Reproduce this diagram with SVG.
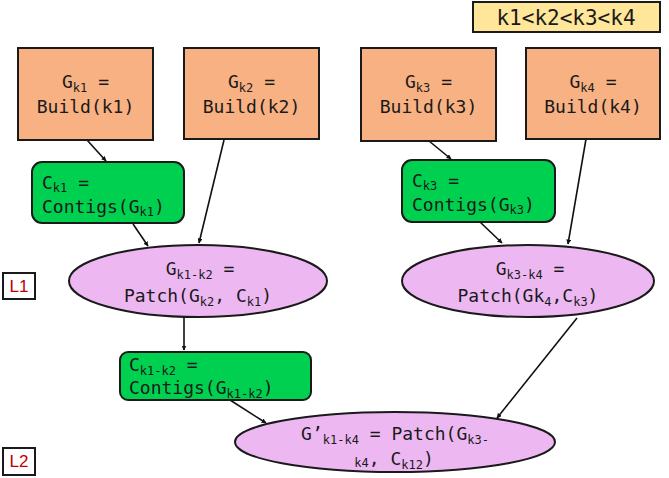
<svg xmlns="http://www.w3.org/2000/svg" width="669" height="478" viewBox="0 0 669 478">
<style>
  .build { fill: #F7B183; stroke: #1a1a1a; stroke-width: 2; }
  .contig { fill: #00D050; stroke: #1a1a1a; stroke-width: 2; }
  .patch { fill: #EDB8F2; stroke: #1a1a1a; stroke-width: 2; }
  .legend { fill: #FFE699; stroke: #1a1a1a; stroke-width: 2; }
  .lvl { fill: #ffffff; stroke: #1a1a1a; stroke-width: 2; }
  .t { font-family: "DejaVu Sans Mono", "Liberation Mono", monospace; font-size: 18px; fill: #1a1a1a; }
  .sub { font-size: 12px; }
  .lt { font-family: "Liberation Sans", "Open Sans", sans-serif; font-size: 17px; fill: #C00000; }
  .edge { stroke: #111; stroke-width: 1.6; fill: none; marker-end: url(#ah); }
</style>
<defs>
  <marker id="ah" viewBox="0 0 10 10" refX="9" refY="5" markerWidth="5" markerHeight="5" orient="auto" markerUnits="userSpaceOnUse">
    <path d="M0,0 L10,5 L0,10 z" fill="#111"/>
  </marker>
</defs>

<g id="connectors">
  <line class="edge" x1="87" y1="140" x2="106" y2="161"/>
  <line class="edge" x1="224" y1="140" x2="199" y2="243"/>
  <line class="edge" x1="133" y1="224" x2="148" y2="246"/>
  <line class="edge" x1="429" y1="141" x2="451" y2="159"/>
  <line class="edge" x1="586" y1="139" x2="568" y2="244"/>
  <line class="edge" x1="480" y1="222" x2="502" y2="243"/>
  <line class="edge" x1="184" y1="317" x2="184" y2="350"/>
  <line class="edge" x1="230" y1="400" x2="266" y2="423"/>
  <line class="edge" x1="577" y1="318" x2="497" y2="418"/>
</g>

<g id="legend">
  <rect class="legend" x="473" y="2" width="187" height="30"/>
  <text class="t" x="566" y="25" text-anchor="middle" style="font-size:21px">k1&lt;k2&lt;k3&lt;k4</text>
</g>

<g id="Gk1">
  <rect class="build" x="18" y="48" width="135" height="92"/>
  <text class="t" x="85.5" y="88" text-anchor="middle">G<tspan class="sub" dy="4">k1</tspan><tspan dy="-4"> =</tspan></text>
  <text class="t" x="85.5" y="113" text-anchor="middle">Build(k1)</text>
</g>
<g id="Gk2">
  <rect class="build" x="184" y="48" width="135" height="91"/>
  <text class="t" x="251.5" y="88" text-anchor="middle">G<tspan class="sub" dy="4">k2</tspan><tspan dy="-4"> =</tspan></text>
  <text class="t" x="251.5" y="113" text-anchor="middle">Build(k2)</text>
</g>
<g id="Gk3">
  <rect class="build" x="361" y="48" width="135" height="93"/>
  <text class="t" x="428.5" y="88" text-anchor="middle">G<tspan class="sub" dy="4">k3</tspan><tspan dy="-4"> =</tspan></text>
  <text class="t" x="428.5" y="113" text-anchor="middle">Build(k3)</text>
</g>
<g id="Gk4">
  <rect class="build" x="526" y="48" width="134" height="91"/>
  <text class="t" x="593" y="88" text-anchor="middle">G<tspan class="sub" dy="4">k4</tspan><tspan dy="-4"> =</tspan></text>
  <text class="t" x="593" y="113" text-anchor="middle">Build(k4)</text>
</g>

<g id="Ck1">
  <rect class="contig" x="32" y="162" width="152" height="61" rx="10"/>
  <text class="t" x="42" y="189">C<tspan class="sub" dy="3">k1</tspan><tspan dy="-3"> =</tspan></text>
  <text class="t" x="42" y="213">Contigs(G<tspan class="sub" dy="3">k1</tspan><tspan dy="-3">)</tspan></text>
</g>
<g id="Ck3">
  <rect class="contig" x="402" y="160" width="153" height="62" rx="10"/>
  <text class="t" x="412" y="187">C<tspan class="sub" dy="3">k3</tspan><tspan dy="-3"> =</tspan></text>
  <text class="t" x="412" y="211">Contigs(G<tspan class="sub" dy="3">k3</tspan><tspan dy="-3">)</tspan></text>
</g>

<g id="L1">
  <rect class="lvl" x="3" y="273" width="32" height="26"/>
  <text class="lt" x="19" y="292" text-anchor="middle">L1</text>
</g>
<g id="L2">
  <rect class="lvl" x="3" y="448" width="32" height="27"/>
  <text class="lt" x="19" y="467" text-anchor="middle">L2</text>
</g>

<g id="Gk1k2">
  <ellipse class="patch" cx="198" cy="281" rx="129" ry="36"/>
  <text class="t" x="200" y="275" text-anchor="middle">G<tspan class="sub" dy="4">k1-k2</tspan><tspan dy="-4"> =</tspan></text>
  <text class="t" x="198" y="302" text-anchor="middle">Patch(G<tspan class="sub" dy="4">k2</tspan><tspan dy="-4">, C</tspan><tspan class="sub" dy="4">k1</tspan><tspan dy="-4">)</tspan></text>
</g>
<g id="Gk3k4">
  <ellipse class="patch" cx="528" cy="281" rx="126" ry="36"/>
  <text class="t" x="530" y="275" text-anchor="middle">G<tspan class="sub" dy="4">k3-k4</tspan><tspan dy="-4"> =</tspan></text>
  <text class="t" x="528" y="302" text-anchor="middle">Patch(Gk<tspan class="sub" dy="4">4</tspan><tspan dy="-4">,C</tspan><tspan class="sub" dy="4">k3</tspan><tspan dy="-4">)</tspan></text>
</g>

<g id="Ck1k2">
  <rect class="contig" x="120" y="352" width="191" height="48" rx="8"/>
  <text class="t" x="129" y="371">C<tspan class="sub" dy="4">k1-k2</tspan><tspan dy="-4"> =</tspan></text>
  <text class="t" x="129" y="394">Contigs(G<tspan class="sub" dy="4">k1-k2</tspan><tspan dy="-4">)</tspan></text>
</g>

<g id="Gk1k4">
  <ellipse class="patch" cx="395" cy="442" rx="160" ry="30"/>
  <text class="t" x="395" y="440" text-anchor="middle">G’<tspan class="sub" dy="4">k1-k4</tspan><tspan dy="-4"> = Patch(G</tspan><tspan class="sub" dy="4">k3-</tspan></text>
  <text class="t" x="394" y="465" text-anchor="middle"><tspan class="sub" dy="2">k4</tspan><tspan dy="-2">, C</tspan><tspan class="sub" dy="4">k12</tspan><tspan dy="-4">)</tspan></text>
</g>
</svg>
